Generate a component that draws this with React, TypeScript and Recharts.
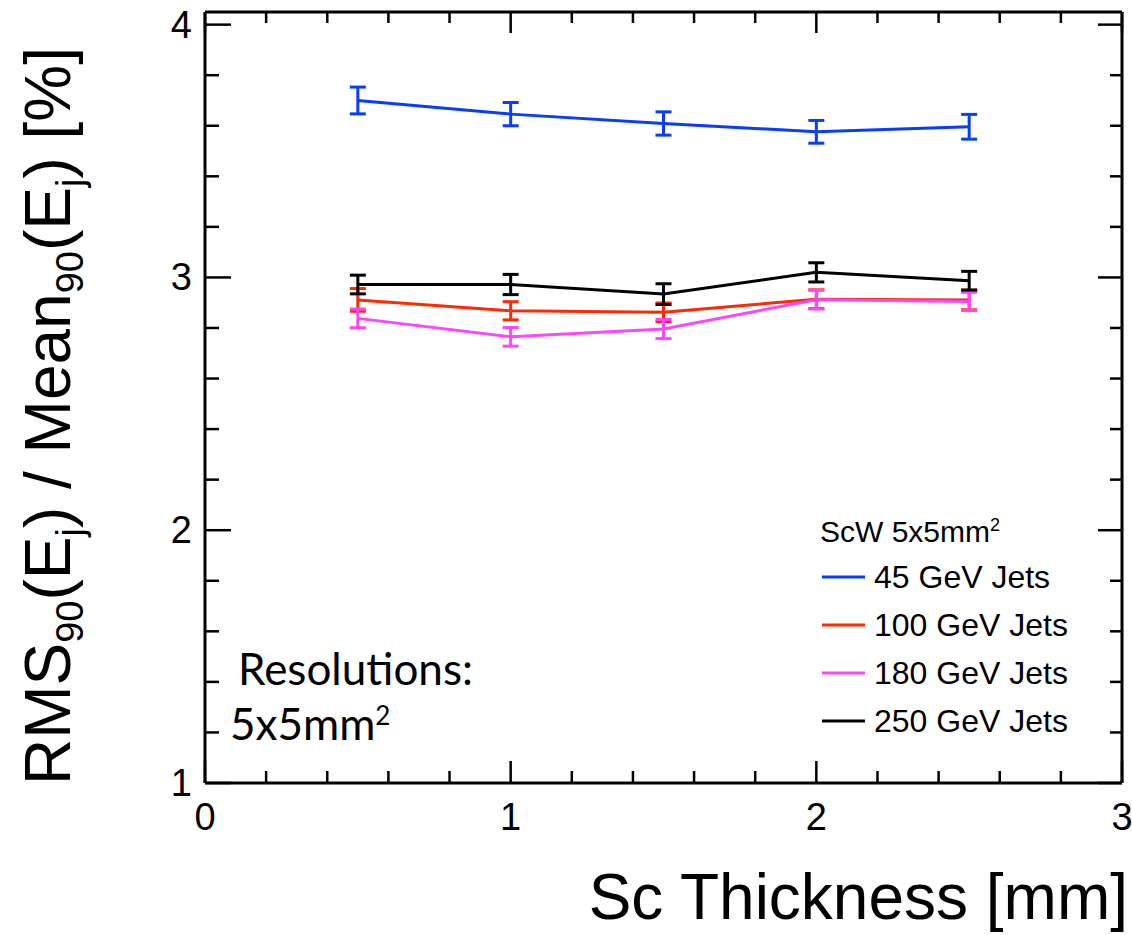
import React from 'react';
import { LineChart, Line, XAxis, YAxis, ErrorBar } from 'recharts';

// ---- data ----
const thickness = [0.5, 1, 1.5, 2, 2.5];
const jets45 = [3.7, 3.646, 3.609, 3.576, 3.596];
const jets45Err = [0.053, 0.046, 0.046, 0.045, 0.049];
const jets100 = [2.911, 2.868, 2.862, 2.914, 2.911];
const jets100Err = [0.045, 0.036, 0.037, 0.037, 0.039];
const jets180 = [2.838, 2.765, 2.796, 2.912, 2.905];
const jets180Err = [0.037, 0.037, 0.038, 0.037, 0.036];
const jets250 = [2.972, 2.972, 2.934, 3.02, 2.987];
const jets250Err = [0.037, 0.04, 0.041, 0.038, 0.037];

const seriesNames = ['45 GeV Jets', '100 GeV Jets', '180 GeV Jets', '250 GeV Jets'];
const seriesColors = ['#0a3cff', '#ff2a00', '#ff45ff', '#000000'];

const xMajorTicks = [0, 1, 2, 3];
const xAllTicks = [0, 0.2, 0.4, 0.6, 0.8, 1, 1.2, 1.4, 1.6, 1.8, 2, 2.2, 2.4, 2.6, 2.8, 3];
const yMajorTicks = [1, 2, 3, 4];
const yAllTicks = [1, 1.2, 1.4, 1.6, 1.8, 2, 2.2, 2.4, 2.6, 2.8, 3, 3.2, 3.4, 3.6, 3.8, 4];

const data = thickness.map((x, i) => ({
  x,
  s45: jets45[i],
  e45: jets45Err[i],
  s100: jets100[i],
  e100: jets100Err[i],
  s180: jets180[i],
  e180: jets180Err[i],
  s250: jets250[i],
  e250: jets250Err[i],
}));

const FONT = '"Liberation Sans", Arial, Helvetica, sans-serif';
const TICK_W = 2.5;

const isMajor = (v: number, majors: number[]) => majors.some((m) => Math.abs(m - v) < 1e-6);

const BottomTick = (props: any) => {
  const { x, y, payload } = props;
  const major = isMajor(payload.value, xMajorTicks);
  return (
    <g>
      <line x1={x} x2={x} y1={y} y2={y - (major ? 22 : 12)} stroke="#000" strokeWidth={TICK_W} />
      {major && (
        <text x={x} y={y + 47} textAnchor="middle" fontSize={38} fontFamily={FONT} fill="#000">
          {payload.value}
        </text>
      )}
    </g>
  );
};

const TopTick = (props: any) => {
  const { x, y, payload } = props;
  const major = isMajor(payload.value, xMajorTicks);
  return <line x1={x} x2={x} y1={y} y2={y + (major ? 21 : 11)} stroke="#000" strokeWidth={TICK_W} />;
};

const LeftTick = (props: any) => {
  const { x, y, payload } = props;
  const major = isMajor(payload.value, yMajorTicks);
  return (
    <g>
      <line x1={x} x2={x + (major ? 26 : 14)} y1={y} y2={y} stroke="#000" strokeWidth={TICK_W} />
      {major && (
        <text x={x - 13} y={y + 13} textAnchor="end" fontSize={38} fontFamily={FONT} fill="#000">
          {payload.value}
        </text>
      )}
    </g>
  );
};

const RightTick = (props: any) => {
  const { x, y, payload } = props;
  const major = isMajor(payload.value, yMajorTicks);
  return <line x1={x} x2={x - (major ? 24 : 12)} y1={y} y2={y} stroke="#000" strokeWidth={TICK_W} />;
};

const axisLine = { stroke: '#000', strokeWidth: 3 };

const legendRows = [577, 625, 673, 721];

export default function App() {
  return (
    <div style={{ position: 'absolute', left: 0, top: 0, width: 1132, height: 935, background: '#fff' }}>
      <LineChart width={1132} height={935} data={data} margin={{ top: 0, right: 0, bottom: 0, left: 0 }}>
        <XAxis
          xAxisId="bottom"
          dataKey="x"
          type="number"
          domain={[0, 3]}
          allowDataOverflow
          ticks={xAllTicks}
          interval={0}
          height={152}
          tickSize={0}
          tickMargin={0}
          tickLine={false}
          axisLine={axisLine}
          tick={<BottomTick />}
        />
        <XAxis
          xAxisId="top"
          orientation="top"
          dataKey="x"
          type="number"
          domain={[0, 3]}
          allowDataOverflow
          ticks={xAllTicks}
          interval={0}
          height={12}
          tickSize={0}
          tickMargin={0}
          tickLine={false}
          axisLine={axisLine}
          tick={<TopTick />}
        />
        <YAxis
          yAxisId="left"
          type="number"
          domain={[1, 4.05]}
          allowDataOverflow
          ticks={yAllTicks}
          interval={0}
          width={205}
          tickSize={0}
          tickMargin={0}
          tickLine={false}
          axisLine={axisLine}
          tick={<LeftTick />}
        />
        <YAxis
          yAxisId="right"
          orientation="right"
          type="number"
          domain={[1, 4.05]}
          allowDataOverflow
          ticks={yAllTicks}
          interval={0}
          width={10}
          tickSize={0}
          tickMargin={0}
          tickLine={false}
          axisLine={axisLine}
          tick={<RightTick />}
        />
        <Line
          xAxisId="top"
          yAxisId="right"
          dataKey="s45"
          stroke="none"
          dot={false}
          activeDot={false}
          isAnimationActive={false}
        />
        {[
          ['s45', 'e45'],
          ['s100', 'e100'],
          ['s180', 'e180'],
          ['s250', 'e250'],
        ].map(([k, e], i) => (
          <Line
            key={k}
            xAxisId="bottom"
            yAxisId="left"
            type="linear"
            dataKey={k}
            name={seriesNames[i]}
            stroke={seriesColors[i]}
            strokeWidth={3}
            dot={false}
            activeDot={false}
            isAnimationActive={false}
          >
            <ErrorBar dataKey={e} direction="y" width={8} strokeWidth={3} stroke={seriesColors[i]} />
          </Line>
        ))}
      </LineChart>
      <svg
        width={1132}
        height={935}
        style={{ position: 'absolute', left: 0, top: 0, pointerEvents: 'none' }}
      >
        {/* axis titles */}
        <text x={1128} y={919} textAnchor="end" fontSize={64} fontFamily={FONT} fill="#000">
          Sc Thickness [mm]
        </text>
        <text transform="translate(70,785) rotate(-90)" fontSize={64} fontFamily={FONT} fill="#000">
          <tspan>RMS</tspan>
          <tspan fontSize={38} dy={13}>90</tspan>
          <tspan dy={-13}>(E</tspan>
          <tspan fontSize={38} dy={13}>j</tspan>
          <tspan dy={-13}>) / Mean</tspan>
          <tspan fontSize={38} dy={13}>90</tspan>
          <tspan dy={-13}>(E</tspan>
          <tspan fontSize={38} dy={13}>j</tspan>
          <tspan dy={-13}>) [%]</tspan>
        </text>
        {/* legend */}
        <text x={820} y={542} fontSize={30} fontFamily={FONT} fill="#000">
          <tspan>ScW 5x5mm</tspan>
          <tspan fontSize={18} dy={-11}>2</tspan>
        </text>
        {seriesNames.map((n, i) => (
          <g key={n}>
            <line x1={822} x2={865} y1={legendRows[i]} y2={legendRows[i]} stroke={seriesColors[i]} strokeWidth={3} />
            <text x={874} y={legendRows[i] + 11} fontSize={32} fontFamily={FONT} fill="#000">
              {n}
            </text>
          </g>
        ))}
        {/* annotation */}
        <text x={238} y={685} fontSize={44} fontFamily="Lato, 'Open Sans', sans-serif" fill="#000">
          Resolutions:
        </text>
        <text x={230} y={740} fontSize={44} fontFamily="Lato, 'Open Sans', sans-serif" fill="#000">
          <tspan>5x5mm</tspan>
          <tspan fontSize={26} dy={-15}>2</tspan>
        </text>
      </svg>
    </div>
  );
}
